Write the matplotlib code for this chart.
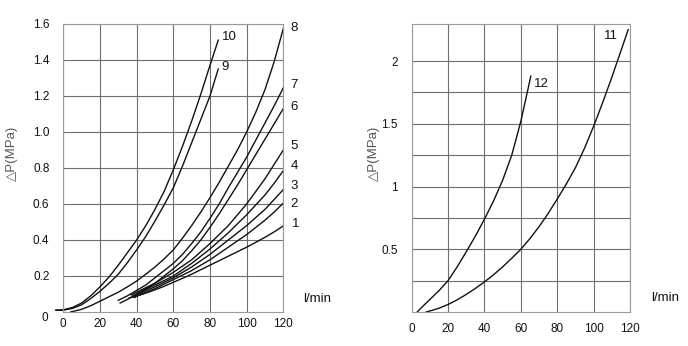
import matplotlib
matplotlib.use("Agg")
import matplotlib.pyplot as plt

plt.rcParams['font.family'] = ['Liberation Sans', 'DejaVu Sans']

# ---- left chart data (flow l/min, pressure drop MPa) ----
c10_x = [-4, 0, 5, 10, 15, 20, 25, 30, 35, 40, 45, 50, 55, 60, 65, 70, 75, 80, 84.5]
c10_y = [0.01, 0.012, 0.025, 0.05, 0.09, 0.14, 0.195, 0.26, 0.33, 0.40, 0.48, 0.57,
         0.67, 0.79, 0.92, 1.06, 1.21, 1.37, 1.51]
c9_x = [-4, 0, 5, 10, 15, 20, 25, 30, 35, 40, 45, 50, 55, 60, 65, 70, 75, 80, 84.5]
c9_y = [0.01, 0.01, 0.02, 0.04, 0.075, 0.115, 0.16, 0.21, 0.275, 0.345, 0.42, 0.505,
        0.595, 0.69, 0.81, 0.94, 1.07, 1.20, 1.35]
c8_x = [4, 10, 15, 20, 25, 30, 35, 40, 45, 50, 55, 60, 65, 70, 75, 80, 85, 90, 95,
        100, 105, 110, 115, 120]
c8_y = [0.0, 0.015, 0.035, 0.06, 0.085, 0.11, 0.14, 0.172, 0.21, 0.25, 0.295, 0.345,
        0.41, 0.48, 0.555, 0.635, 0.72, 0.81, 0.90, 1.00, 1.11, 1.235, 1.39, 1.575]
c7_x = [30, 35, 40, 45, 50, 55, 60, 65, 70, 75, 80, 85, 90, 95, 100, 105, 110, 115, 120]
c7_y = [0.065, 0.09, 0.12, 0.15, 0.19, 0.23, 0.27, 0.32, 0.38, 0.445, 0.52, 0.60,
        0.69, 0.775, 0.86, 0.955, 1.05, 1.145, 1.245]
c6_x = [31, 35, 40, 45, 50, 55, 60, 65, 70, 75, 80, 85, 90, 95, 100, 105, 110, 115, 120]
c6_y = [0.05, 0.07, 0.10, 0.13, 0.16, 0.20, 0.24, 0.285, 0.34, 0.40, 0.47, 0.545,
        0.625, 0.705, 0.79, 0.875, 0.96, 1.045, 1.13]
c5_x = [37, 40, 45, 50, 55, 60, 65, 70, 75, 80, 85, 90, 95, 100, 105, 110, 115, 120]
c5_y = [0.095, 0.11, 0.135, 0.16, 0.19, 0.22, 0.255, 0.29, 0.335, 0.38, 0.43, 0.48,
        0.54, 0.60, 0.67, 0.74, 0.82, 0.90]
c4_x = [38, 40, 45, 50, 55, 60, 65, 70, 75, 80, 85, 90, 95, 100, 105, 110, 115, 120]
c4_y = [0.09, 0.10, 0.125, 0.15, 0.175, 0.20, 0.235, 0.27, 0.31, 0.35, 0.395, 0.44,
        0.49, 0.54, 0.595, 0.65, 0.715, 0.785]
c3_x = [38, 40, 45, 50, 55, 60, 65, 70, 75, 80, 85, 90, 95, 100, 105, 110, 115, 120]
c3_y = [0.085, 0.095, 0.117, 0.14, 0.165, 0.19, 0.22, 0.25, 0.285, 0.32, 0.36, 0.40,
        0.44, 0.48, 0.525, 0.57, 0.625, 0.68]
c2_x = [39, 40, 45, 50, 55, 60, 65, 70, 75, 80, 85, 90, 95, 100, 105, 110, 115, 120]
c2_y = [0.08, 0.088, 0.108, 0.13, 0.155, 0.18, 0.205, 0.23, 0.26, 0.29, 0.325, 0.36,
        0.395, 0.43, 0.47, 0.51, 0.555, 0.605]
c1_x = [36, 40, 45, 50, 55, 60, 65, 70, 75, 80, 85, 90, 95, 100, 105, 110, 115, 120]
c1_y = [0.078, 0.088, 0.105, 0.123, 0.143, 0.165, 0.187, 0.21, 0.235, 0.26, 0.285,
        0.31, 0.335, 0.36, 0.387, 0.415, 0.445, 0.478]

left_curves = [(c10_x, c10_y, "10"), (c9_x, c9_y, "9"), (c8_x, c8_y, "8"),
               (c7_x, c7_y, "7"), (c6_x, c6_y, "6"), (c5_x, c5_y, "5"),
               (c4_x, c4_y, "4"), (c3_x, c3_y, "3"), (c2_x, c2_y, "2"),
               (c1_x, c1_y, "1")]

# ---- right chart data ----
c11_x = [8, 10, 15, 20, 25, 30, 35, 40, 45, 50, 55, 60, 65, 70, 75, 80, 85, 90, 95,
         100, 105, 110, 115, 119]
c11_y = [0.0, 0.008, 0.03, 0.06, 0.097, 0.14, 0.188, 0.24, 0.297, 0.36, 0.428, 0.50,
         0.585, 0.68, 0.785, 0.90, 1.02, 1.15, 1.305, 1.48, 1.67, 1.87, 2.08, 2.25]
c12_x = [3, 5, 10, 15, 20, 25, 30, 35, 40, 45, 50, 55, 60, 65.5]
c12_y = [0.0, 0.03, 0.10, 0.17, 0.25, 0.36, 0.48, 0.605, 0.74, 0.885, 1.05, 1.25, 1.52, 1.88]

left_xticks = [0, 20, 40, 60, 80, 100, 120]
left_yticks = [0.2, 0.4, 0.6, 0.8, 1.0, 1.2, 1.4, 1.6]
left_ylabels = ["0.2", "0.4", "0.6", "0.8", "1.0", "1.2", "1.4", "1.6"]
right_xticks = [0, 20, 40, 60, 80, 100, 120]
right_ygrid = [0.25, 0.5, 0.75, 1.0, 1.25, 1.5, 1.75, 2.0]
right_yticks = [0.5, 1.0, 1.5, 2.0]
right_ylabels = ["0.5", "1", "1.5", "2"]

# label positions (data coords)
left_lab = {"10": (86.5, 1.53), "9": (86.0, 1.36), "8": (124.0, 1.58),
            "7": (124.0, 1.26), "6": (124.0, 1.14), "5": (124.0, 0.92),
            "4": (124.0, 0.81), "3": (124.0, 0.70), "2": (124.0, 0.60),
            "1": (124.5, 0.49)}

GRID = "#6e6e6e"
FS = 8.5
LFS = 9.5

fig = plt.figure(figsize=(6.88, 3.46), dpi=100)
axL = fig.add_axes([63.3/688, 34/346, 220/688, 288/346])
axR = fig.add_axes([411.7/688, 34/346, 218.3/688, 288/346])

# Left
axL.set_xlim(0, 120)
axL.set_ylim(0, 1.6)
axL.set_xticks(left_xticks)
axL.set_xticklabels([str(v) for v in left_xticks], fontsize=FS)
axL.set_yticks(left_yticks)
axL.set_yticklabels(left_ylabels, fontsize=FS)
axL.grid(True, color=GRID, lw=0.8)
axL.tick_params(length=0, colors="#111111")
axL.tick_params(axis="x", pad=4.5)
axL.tick_params(axis="y", pad=10)
for s in axL.spines.values():
    s.set_color("#9a9a9a")
    s.set_linewidth(0.8)
for x, y, lab in left_curves:
    axL.plot(x, y, color="#111111", lw=1.0, clip_on=False, solid_joinstyle="round")
    lx, ly = left_lab[lab]
    axL.text(lx, ly, lab, fontsize=LFS, ha="left", va="center", color="#111111")
axL.text(-8.5, -0.035, "0", fontsize=FS, ha="right", va="center", color="#111111")
axL.text(146, 0.07, "l/min", fontsize=LFS, ha="right", va="center", color="#111111")
axL.set_ylabel("△P(MPa)", fontsize=LFS, color="#555555")
axL.yaxis.set_label_coords(-0.206, 0.55)

# Right
axR.set_xlim(0, 120)
axR.set_ylim(0, 2.295)
axR.set_xticks(right_xticks)
axR.set_xticklabels([str(v) for v in right_xticks], fontsize=FS)
axR.set_yticks(right_ygrid)
axR.set_yticklabels(["" if v not in right_yticks else right_ylabels[right_yticks.index(v)]
                     for v in right_ygrid], fontsize=FS)
axR.grid(True, color=GRID, lw=0.8)
axR.tick_params(length=0, colors="#111111")
axR.tick_params(axis="x", pad=8)
axR.tick_params(axis="y", pad=10)
for s in axR.spines.values():
    s.set_color("#9a9a9a")
    s.set_linewidth(0.8)
axR.plot(c11_x, c11_y, color="#111111", lw=1.0, solid_joinstyle="round")
axR.plot(c12_x, c12_y, color="#111111", lw=1.0, solid_joinstyle="round")
axR.text(109.5, 2.2, "11", fontsize=LFS, ha="center", va="center", color="#111111")
axR.text(71.5, 1.82, "12", fontsize=LFS, ha="center", va="center", color="#111111")
axR.text(147, 0.11, "l/min", fontsize=LFS, ha="right", va="center", color="#111111")
axR.set_ylabel("△P(MPa)", fontsize=LFS, color="#555555")
axR.yaxis.set_label_coords(-0.145, 0.55)

fig.savefig("out.png", dpi=100)
